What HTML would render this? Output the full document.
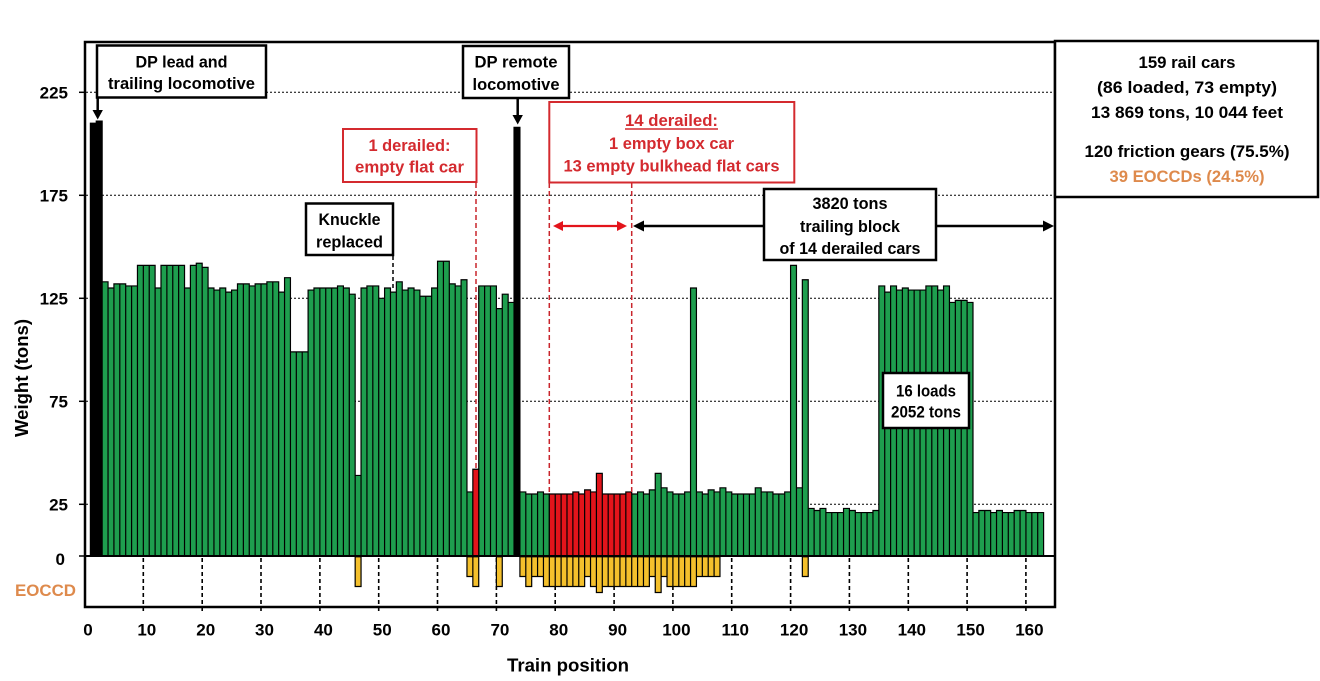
<!DOCTYPE html>
<html><head><meta charset="utf-8">
<style>
html,body{margin:0;padding:0;background:#fff}
svg{display:block}
text{font-family:"Liberation Sans",Arial,sans-serif;font-weight:bold}
.bars path{vector-effect:non-scaling-stroke;stroke:#000;stroke-width:1.2}
</style></head>
<body>
<svg width="1320" height="681" viewBox="0 0 1320 681" xmlns="http://www.w3.org/2000/svg">
<rect x="0" y="0" width="1320" height="681" fill="#fff"/>

<!-- gridlines -->
<g stroke="#000" stroke-width="1" stroke-dasharray="2,2">
<line x1="86" y1="92.3" x2="1054" y2="92.3"/>
<line x1="86" y1="195.3" x2="1054" y2="195.3"/>
<line x1="86" y1="298.3" x2="1054" y2="298.3"/>
<line x1="86" y1="401.3" x2="1054" y2="401.3"/>
<line x1="86" y1="504.3" x2="1054" y2="504.3"/>
</g>

<!-- x dashed ticks in EOCCD area -->
<g stroke="#000" stroke-width="1.6" stroke-dasharray="4,3">
<line x1="143.3" y1="558" x2="143.3" y2="612"/>
<line x1="202.2" y1="558" x2="202.2" y2="612"/>
<line x1="261.0" y1="558" x2="261.0" y2="612"/>
<line x1="319.9" y1="558" x2="319.9" y2="612"/>
<line x1="378.7" y1="558" x2="378.7" y2="612"/>
<line x1="437.5" y1="558" x2="437.5" y2="612"/>
<line x1="496.4" y1="558" x2="496.4" y2="612"/>
<line x1="555.2" y1="558" x2="555.2" y2="612"/>
<line x1="614.1" y1="558" x2="614.1" y2="612"/>
<line x1="672.9" y1="558" x2="672.9" y2="612"/>
<line x1="731.7" y1="558" x2="731.7" y2="612"/>
<line x1="790.6" y1="558" x2="790.6" y2="612"/>
<line x1="849.4" y1="558" x2="849.4" y2="612"/>
<line x1="908.3" y1="558" x2="908.3" y2="612"/>
<line x1="967.1" y1="558" x2="967.1" y2="612"/>
<line x1="1025.9" y1="558" x2="1025.9" y2="612"/>
</g>

<!-- weight bars -->
<g class="bars" transform="translate(84.5,555.8) scale(5.884,-2.06)">
<path fill="#000" d="M1 0h1v210h-1z M2 0h1v211h-1z M73 0h1v208h-1z"/>
<path fill="#1E9E4E" d="M3 0h1v133h-1z M4 0h1v130h-1z M5 0h1v132h-1z M6 0h1v132h-1z M7 0h1v131h-1z M8 0h1v131h-1z M9 0h1v141h-1z M10 0h1v141h-1z M11 0h1v141h-1z M12 0h1v130h-1z M13 0h1v141h-1z M14 0h1v141h-1z M15 0h1v141h-1z M16 0h1v141h-1z M17 0h1v130h-1z M18 0h1v141h-1z M19 0h1v142h-1z M20 0h1v140h-1z M21 0h1v130h-1z M22 0h1v129h-1z M23 0h1v130h-1z M24 0h1v128h-1z M25 0h1v129h-1z M26 0h1v132h-1z M27 0h1v132h-1z M28 0h1v131h-1z M29 0h1v132h-1z M30 0h1v132h-1z M31 0h1v133h-1z M32 0h1v133h-1z M33 0h1v128h-1z M34 0h1v135h-1z M35 0h1v99h-1z M36 0h1v99h-1z M37 0h1v99h-1z M38 0h1v129h-1z M39 0h1v130h-1z M40 0h1v130h-1z M41 0h1v130h-1z M42 0h1v130h-1z M43 0h1v131h-1z M44 0h1v130h-1z M45 0h1v127h-1z M46 0h1v39h-1z M47 0h1v130h-1z M48 0h1v131h-1z M49 0h1v131h-1z M50 0h1v125h-1z M51 0h1v130h-1z M52 0h1v128h-1z M53 0h1v133h-1z M54 0h1v129h-1z M55 0h1v130h-1z M56 0h1v129h-1z M57 0h1v126h-1z M58 0h1v126h-1z M59 0h1v130h-1z M60 0h1v143h-1z M61 0h1v143h-1z M62 0h1v132h-1z M63 0h1v131h-1z M64 0h1v134h-1z M65 0h1v31h-1z
M67 0h1v131h-1z M68 0h1v131h-1z M69 0h1v131h-1z M70 0h1v120h-1z M71 0h1v127h-1z M72 0h1v123h-1z
M74 0h1v31h-1z M75 0h1v30h-1z M76 0h1v30h-1z M77 0h1v31h-1z M78 0h1v30h-1z
M93 0h1v30h-1z M94 0h1v31h-1z M95 0h1v30h-1z M96 0h1v32h-1z M97 0h1v40h-1z M98 0h1v33h-1z M99 0h1v31h-1z M100 0h1v30h-1z M101 0h1v30h-1z M102 0h1v31h-1z M103 0h1v130h-1z M104 0h1v31h-1z M105 0h1v30h-1z M106 0h1v32h-1z M107 0h1v31h-1z M108 0h1v33h-1z M109 0h1v31h-1z M110 0h1v30h-1z M111 0h1v30h-1z M112 0h1v30h-1z M113 0h1v30h-1z M114 0h1v33h-1z M115 0h1v31h-1z M116 0h1v31h-1z M117 0h1v30h-1z M118 0h1v30h-1z M119 0h1v31h-1z M120 0h1v141h-1z M121 0h1v33h-1z M122 0h1v134h-1z M123 0h1v23h-1z M124 0h1v22h-1z M125 0h1v23h-1z M126 0h1v21h-1z M127 0h1v21h-1z M128 0h1v21h-1z M129 0h1v23h-1z M130 0h1v22h-1z M131 0h1v21h-1z M132 0h1v21h-1z M133 0h1v21h-1z M134 0h1v22h-1z M135 0h1v131h-1z M136 0h1v128h-1z M137 0h1v131h-1z M138 0h1v129h-1z M139 0h1v130h-1z M140 0h1v129h-1z M141 0h1v129h-1z M142 0h1v129h-1z M143 0h1v131h-1z M144 0h1v131h-1z M145 0h1v129h-1z M146 0h1v131h-1z M147 0h1v123h-1z M148 0h1v124h-1z M149 0h1v124h-1z M150 0h1v123h-1z M151 0h1v21h-1z M152 0h1v22h-1z M153 0h1v22h-1z M154 0h1v21h-1z M155 0h1v22h-1z M156 0h1v21h-1z M157 0h1v21h-1z M158 0h1v22h-1z M159 0h1v22h-1z M160 0h1v21h-1z M161 0h1v21h-1z M162 0h1v21h-1z"/>
<path fill="#E3141B" d="M66 0h1v42h-1z M79 0h1v30h-1z M80 0h1v30h-1z M81 0h1v30h-1z M82 0h1v30h-1z M83 0h1v31h-1z M84 0h1v30h-1z M85 0h1v32h-1z M86 0h1v31h-1z M87 0h1v40h-1z M88 0h1v30h-1z M89 0h1v30h-1z M90 0h1v30h-1z M91 0h1v30h-1z M92 0h1v31h-1z"/>
</g>

<!-- EOCCD bars -->
<g class="bars" transform="translate(84.5,0) scale(5.884,1)">
<path fill="#F4C02C" d="M46 556.8h1v29.7h-1z M65 556.8h1v19.7h-1z M66 556.8h1v29.7h-1z M70 556.8h1v29.7h-1z
M74 556.8h1v19.7h-1z M75 556.8h1v29.7h-1z M76 556.8h1v19.7h-1z M77 556.8h1v19.7h-1z M78 556.8h1v29.7h-1z M79 556.8h1v29.7h-1z M80 556.8h1v29.7h-1z M81 556.8h1v29.7h-1z M82 556.8h1v29.7h-1z M83 556.8h1v29.7h-1z M84 556.8h1v29.7h-1z M85 556.8h1v19.7h-1z M86 556.8h1v29.7h-1z M87 556.8h1v35.7h-1z M88 556.8h1v29.7h-1z M89 556.8h1v29.7h-1z M90 556.8h1v29.7h-1z M91 556.8h1v29.7h-1z M92 556.8h1v29.7h-1z M93 556.8h1v29.7h-1z M94 556.8h1v29.7h-1z M95 556.8h1v29.7h-1z M96 556.8h1v19.7h-1z M97 556.8h1v35.7h-1z M98 556.8h1v19.7h-1z M99 556.8h1v29.7h-1z M100 556.8h1v29.7h-1z M101 556.8h1v29.7h-1z M102 556.8h1v29.7h-1z M103 556.8h1v29.7h-1z M104 556.8h1v19.7h-1z M105 556.8h1v19.7h-1z M106 556.8h1v19.7h-1z M107 556.8h1v19.7h-1z
M122 556.8h1v19.7h-1z"/>
</g>

<!-- frame, zero line, ticks -->
<rect x="85" y="42" width="970" height="565" fill="none" stroke="#000" stroke-width="2.5"/>
<line x1="85" y1="556" x2="1055" y2="556" stroke="#000" stroke-width="2"/>
<g stroke="#000" stroke-width="1.5">
<line x1="79" y1="92.3" x2="85" y2="92.3"/>
<line x1="79" y1="195.3" x2="85" y2="195.3"/>
<line x1="79" y1="298.3" x2="85" y2="298.3"/>
<line x1="79" y1="401.3" x2="85" y2="401.3"/>
<line x1="79" y1="504.3" x2="85" y2="504.3"/>
<line x1="79" y1="556" x2="85" y2="556"/>
</g>

<!-- y tick labels -->
<g font-size="17" text-anchor="end" fill="#000">
<text x="68" y="98.3">225</text>
<text x="68" y="201.3">175</text>
<text x="68" y="304.3">125</text>
<text x="68" y="407.3">75</text>
<text x="68" y="510.3">25</text>
<text x="65" y="565">0</text>
</g>
<text x="15" y="596" font-size="17" fill="#DE8A4C" textLength="61" lengthAdjust="spacingAndGlyphs">EOCCD</text>

<!-- x tick labels -->
<g font-size="17" text-anchor="middle" fill="#000">
<text x="88" y="635.5">0</text>
<text x="146.8" y="635.5">10</text>
<text x="205.7" y="635.5">20</text>
<text x="264.5" y="635.5">30</text>
<text x="323.4" y="635.5">40</text>
<text x="382.2" y="635.5">50</text>
<text x="441.0" y="635.5">60</text>
<text x="499.9" y="635.5">70</text>
<text x="558.7" y="635.5">80</text>
<text x="617.6" y="635.5">90</text>
<text x="676.4" y="635.5">100</text>
<text x="735.2" y="635.5">110</text>
<text x="794.1" y="635.5">120</text>
<text x="852.9" y="635.5">130</text>
<text x="911.8" y="635.5">140</text>
<text x="970.6" y="635.5">150</text>
<text x="1029.4" y="635.5">160</text>
</g>

<!-- axis titles -->
<text x="568" y="671.5" font-size="18.5" text-anchor="middle" textLength="122" lengthAdjust="spacingAndGlyphs">Train position</text>
<text transform="translate(28,378) rotate(-90)" x="0" y="0" font-size="18.5" text-anchor="middle" textLength="118" lengthAdjust="spacingAndGlyphs">Weight (tons)</text>

<!-- red dashed lines -->
<g stroke="#C9252C" stroke-width="1.5" stroke-dasharray="5,3">
<line x1="476" y1="183" x2="476" y2="469"/>
<line x1="549.3" y1="183" x2="549.3" y2="494"/>
<line x1="631.7" y1="183" x2="631.7" y2="494"/>
</g>
<!-- knuckle dashed -->
<line x1="393" y1="256" x2="393" y2="291" stroke="#000" stroke-width="1.5" stroke-dasharray="4,3"/>

<!-- arrows -->
<line x1="97.7" y1="98" x2="97.7" y2="111" stroke="#000" stroke-width="2.5"/>
<polygon points="92.5,110 102.9,110 97.7,119.5" fill="#000"/>
<line x1="517.7" y1="98" x2="517.7" y2="116" stroke="#000" stroke-width="2.5"/>
<polygon points="512.5,115 522.9,115 517.7,124.5" fill="#000"/>

<line x1="561" y1="226" x2="619" y2="226" stroke="#E3141B" stroke-width="2.2"/>
<polygon points="553,226 563,221 563,231" fill="#E3141B"/>
<polygon points="627,226 617,221 617,231" fill="#E3141B"/>

<line x1="642" y1="226" x2="765" y2="226" stroke="#000" stroke-width="2.5"/>
<polygon points="633,226 644,220.5 644,231.5" fill="#000"/>
<line x1="936" y1="226" x2="1045" y2="226" stroke="#000" stroke-width="2.5"/>
<polygon points="1054,226 1043,220.5 1043,231.5" fill="#000"/>

<!-- annotation boxes -->
<rect x="97" y="45.5" width="169" height="52" fill="#fff" stroke="#000" stroke-width="2.5"/>
<g font-size="16.5" text-anchor="middle">
<text x="181.5" y="67.5" textLength="92" lengthAdjust="spacingAndGlyphs">DP lead and</text>
<text x="181.5" y="89" textLength="147" lengthAdjust="spacingAndGlyphs">trailing locomotive</text>
</g>

<rect x="463" y="46" width="106" height="52" fill="#fff" stroke="#000" stroke-width="2.5"/>
<g font-size="16.5" text-anchor="middle">
<text x="516" y="67.5" textLength="83" lengthAdjust="spacingAndGlyphs">DP remote</text>
<text x="516" y="90" textLength="87" lengthAdjust="spacingAndGlyphs">locomotive</text>
</g>

<rect x="343" y="129" width="133.5" height="53" fill="#fff" stroke="#D42A2F" stroke-width="2"/>
<g font-size="16.5" text-anchor="middle" fill="#D42A2F">
<text x="409.5" y="151" textLength="82" lengthAdjust="spacingAndGlyphs">1 derailed:</text>
<text x="409.5" y="172.5" textLength="109" lengthAdjust="spacingAndGlyphs">empty flat car</text>
</g>

<rect x="549.3" y="102" width="245" height="80.5" fill="#fff" stroke="#D42A2F" stroke-width="2"/>
<g font-size="16.5" text-anchor="middle" fill="#D42A2F">
<text x="671.5" y="126" textLength="93" lengthAdjust="spacingAndGlyphs">14 derailed:</text>
<text x="671.5" y="149" textLength="125" lengthAdjust="spacingAndGlyphs">1 empty box car</text>
<text x="671.5" y="171.5" textLength="216" lengthAdjust="spacingAndGlyphs">13 empty bulkhead flat cars</text>
</g>
<line x1="625" y1="129" x2="718" y2="129" stroke="#D42A2F" stroke-width="1.5"/>

<rect x="306" y="203.5" width="87" height="51.5" fill="#fff" stroke="#000" stroke-width="2.5"/>
<g font-size="16.5" text-anchor="middle">
<text x="349.5" y="225" textLength="62" lengthAdjust="spacingAndGlyphs">Knuckle</text>
<text x="349.5" y="247.5" textLength="67" lengthAdjust="spacingAndGlyphs">replaced</text>
</g>

<rect x="764" y="189" width="172" height="71" fill="#fff" stroke="#000" stroke-width="2.5"/>
<g font-size="16.5" text-anchor="middle">
<text x="850" y="209" textLength="75" lengthAdjust="spacingAndGlyphs">3820 tons</text>
<text x="850" y="232" textLength="100" lengthAdjust="spacingAndGlyphs">trailing block</text>
<text x="850" y="254" textLength="141" lengthAdjust="spacingAndGlyphs">of 14 derailed cars</text>
</g>

<rect x="883" y="373" width="86" height="55" fill="#fff" stroke="#000" stroke-width="2.5"/>
<g font-size="16.5" text-anchor="middle">
<text x="926" y="396.5" textLength="60" lengthAdjust="spacingAndGlyphs">16 loads</text>
<text x="926" y="417.5" textLength="70" lengthAdjust="spacingAndGlyphs">2052 tons</text>
</g>

<!-- legend box -->
<rect x="1055" y="41" width="263" height="156" fill="#fff" stroke="#000" stroke-width="2.5"/>
<g font-size="16.5" text-anchor="middle">
<text x="1187" y="68" textLength="97" lengthAdjust="spacingAndGlyphs">159 rail cars</text>
<text x="1187" y="93" textLength="180" lengthAdjust="spacingAndGlyphs">(86 loaded, 73 empty)</text>
<text x="1187" y="118" textLength="192" lengthAdjust="spacingAndGlyphs">13 869 tons, 10 044 feet</text>
<text x="1187" y="157" textLength="205" lengthAdjust="spacingAndGlyphs">120 friction gears (75.5%)</text>
<text x="1187" y="182" fill="#DE8A4C" textLength="155" lengthAdjust="spacingAndGlyphs">39 EOCCDs (24.5%)</text>
</g>
</svg>
</body></html>
